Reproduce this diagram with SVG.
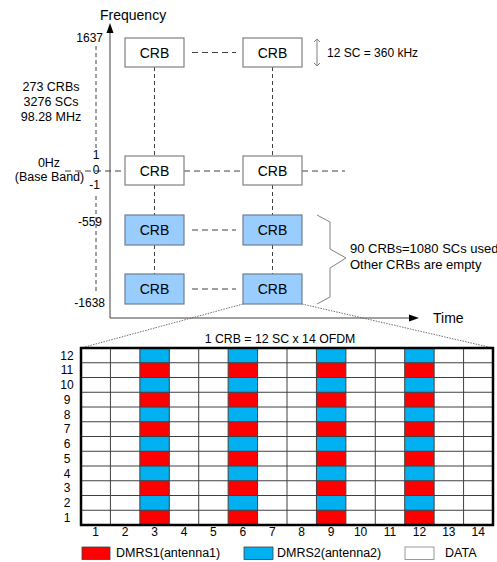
<svg xmlns="http://www.w3.org/2000/svg" width="497" height="562" viewBox="0 0 497 562">
<style>
text{font-family:"Liberation Sans",Arial,sans-serif;fill:#000}
.crb rect{stroke:#808080;stroke-width:1.2}
.w rect{fill:#fff}
.b rect{fill:#99ccff;stroke:#6f7f8f}
.crb text{font-size:14px;text-anchor:middle}
.dash{stroke:#404040;stroke-width:1;stroke-dasharray:6,4;fill:none}
.vd{stroke:#404040;stroke-width:1;stroke-dasharray:4,3;fill:none}
.lbl{font-size:12.5px}
.num{font-size:12px}
.gl{stroke:#404040;stroke-width:1;fill:none}
</style>
<defs>
<pattern id="dmrs" patternUnits="userSpaceOnUse" x="0" y="348" width="497" height="29.5">
<rect x="0" y="0" width="497" height="14.75" fill="#00b0f0"/>
<rect x="0" y="14.75" width="497" height="14.75" fill="#ff0000"/>
</pattern>
</defs>

<!-- axes -->
<g id="axes">
<line x1="110" y1="318" x2="110" y2="32" stroke="#404040" stroke-width="1"/>
<path d="M110,23 L106.5,33 L113.5,33 Z" fill="#000"/>
<line x1="110" y1="318" x2="410" y2="318" stroke="#404040" stroke-width="1"/>
<path d="M419,318 L409,314.5 L409,321.5 Z" fill="#000"/>
<text x="100" y="20" style="font-size:14px">Frequency</text>
<text x="433" y="323" style="font-size:14px">Time</text>
</g>

<!-- connectors -->
<g id="connectors">
<path class="vd" d="M96,46 V150 M96,196 V292"/>
<path class="dash" d="M65,171 H125 M184,171 H243 M302,171 H345"/>
<path class="dash" d="M192,52.5 H236 M192,230 H236 M192,289 H236"/>
<path class="vd" d="M154.5,67 V156 M154.5,185 V215 M154.5,245 V274"/>
<path class="vd" d="M272.5,67 V156 M272.5,185 V215 M272.5,245 V274"/>
<path d="M243,304 L81,348 M302,304 L493,348" stroke="#606060" stroke-width="0.9" stroke-dasharray="1.5,1.2" fill="none"/>
</g>

<!-- CRB nodes -->
<g id="crb-1-1" class="crb w"><rect x="125" y="38" width="59" height="29"/><text x="154.5" y="57.5">CRB</text></g>
<g id="crb-1-2" class="crb w"><rect x="243" y="38" width="59" height="29"/><text x="272.5" y="57.5">CRB</text></g>
<g id="crb-2-1" class="crb w"><rect x="125" y="156" width="59" height="29"/><text x="154.5" y="175.5">CRB</text></g>
<g id="crb-2-2" class="crb w"><rect x="243" y="156" width="59" height="29"/><text x="272.5" y="175.5">CRB</text></g>
<g id="crb-3-1" class="crb b"><rect x="125" y="215" width="59" height="30"/><text x="154.5" y="235">CRB</text></g>
<g id="crb-3-2" class="crb b"><rect x="243" y="215" width="59" height="30"/><text x="272.5" y="235">CRB</text></g>
<g id="crb-4-1" class="crb b"><rect x="125" y="274" width="59" height="30"/><text x="154.5" y="294">CRB</text></g>
<g id="crb-4-2" class="crb b"><rect x="243" y="274" width="59" height="30"/><text x="272.5" y="294">CRB</text></g>

<!-- axis labels -->
<g id="freq-labels">
<text class="num" x="103" y="42" text-anchor="end">1637</text>
<text class="num" x="96" y="159" text-anchor="middle">1</text>
<text class="num" x="96" y="174" text-anchor="middle">0</text>
<text class="num" x="100" y="189" text-anchor="end">-1</text>
<text class="num" x="102" y="226" text-anchor="end">-559</text>
<text class="num" x="105" y="307" text-anchor="end">-1638</text>
<text class="lbl" x="51" y="91" text-anchor="middle">273 CRBs</text>
<text class="lbl" x="51" y="105.5" text-anchor="middle">3276 SCs</text>
<text class="lbl" x="51" y="120.5" text-anchor="middle">98.28 MHz</text>
<text class="lbl" x="49" y="167" text-anchor="middle">0Hz</text>
<text class="lbl" x="49.5" y="181" text-anchor="middle">(Base Band)</text>
</g>

<!-- SC size annotation -->
<g id="sc-size">
<path d="M317,39 V66 M314,42 L317,39 L320,42 M314,63 L317,66 L320,63" stroke="#808080" stroke-width="1" fill="none"/>
<text x="327" y="57" style="font-size:12px">12 SC = 360 kHz</text>
</g>

<!-- brace -->
<g id="used-brace">
<path d="M317,215 L330,222 L330,249 L346,258 L330,268 L330,297 L317,304" stroke="#808080" stroke-width="1" fill="none"/>
<text x="350" y="253" style="font-size:13px">90 CRBs=1080 SCs used</text>
<text x="350" y="269" style="font-size:13px">Other CRBs are empty</text>
</g>

<!-- CRB grid -->
<g id="crb-grid">
<text x="280" y="343" text-anchor="middle" style="font-size:12.3px">1 CRB = 12 SC x 14 OFDM</text>
<rect x="81" y="348" width="412" height="177" fill="#fff"/>
<rect x="139.86" y="348" width="29.43" height="177" fill="url(#dmrs)"/>
<rect x="228.14" y="348" width="29.43" height="177" fill="url(#dmrs)"/>
<rect x="316.43" y="348" width="29.43" height="177" fill="url(#dmrs)"/>
<rect x="404.71" y="348" width="29.43" height="177" fill="url(#dmrs)"/>
<path class="gl" d="M81,362.75H493 M81,377.5H493 M81,392.25H493 M81,407H493 M81,421.75H493 M81,436.5H493 M81,451.25H493 M81,466H493 M81,480.75H493 M81,495.5H493 M81,510.25H493"/>
<path class="gl" d="M110.43,348V525 M139.86,348V525 M169.29,348V525 M198.71,348V525 M228.14,348V525 M257.57,348V525 M287,348V525 M316.43,348V525 M345.86,348V525 M375.29,348V525 M404.71,348V525 M434.14,348V525 M463.57,348V525"/>
<rect x="81" y="348" width="412" height="177" fill="none" stroke="#000" stroke-width="2.5"/>
<g class="num" text-anchor="middle">
<text x="67" y="359.7">12</text>
<text x="67" y="374.4">11</text>
<text x="67" y="389.2">10</text>
<text x="67" y="403.9">9</text>
<text x="67" y="418.7">8</text>
<text x="67" y="433.4">7</text>
<text x="67" y="448.2">6</text>
<text x="67" y="462.9">5</text>
<text x="67" y="477.7">4</text>
<text x="67" y="492.4">3</text>
<text x="67" y="507.2">2</text>
<text x="67" y="521.9">1</text>
<text x="95.71" y="536">1</text>
<text x="125.14" y="536">2</text>
<text x="154.57" y="536">3</text>
<text x="184" y="536">4</text>
<text x="213.43" y="536">5</text>
<text x="242.86" y="536">6</text>
<text x="272.29" y="536">7</text>
<text x="301.71" y="536">8</text>
<text x="331.14" y="536">9</text>
<text x="360.57" y="536">10</text>
<text x="390" y="536">11</text>
<text x="419.43" y="536">12</text>
<text x="448.86" y="536">13</text>
<text x="478.29" y="536">14</text>
</g>
</g>

<!-- legend -->
<g id="legend">
<rect x="82" y="547" width="28" height="12.5" fill="#ff0000" stroke="#404040" stroke-width="0.8"/>
<text class="lbl" x="116" y="557">DMRS1(antenna1)</text>
<rect x="244" y="547" width="29" height="12.5" fill="#00b0f0" stroke="#404040" stroke-width="0.8"/>
<text class="lbl" x="277" y="557">DMRS2(antenna2)</text>
<rect x="405" y="547" width="29" height="12.5" fill="#fff" stroke="#808080" stroke-width="0.8"/>
<text class="lbl" x="445" y="557">DATA</text>
</g>
</svg>
